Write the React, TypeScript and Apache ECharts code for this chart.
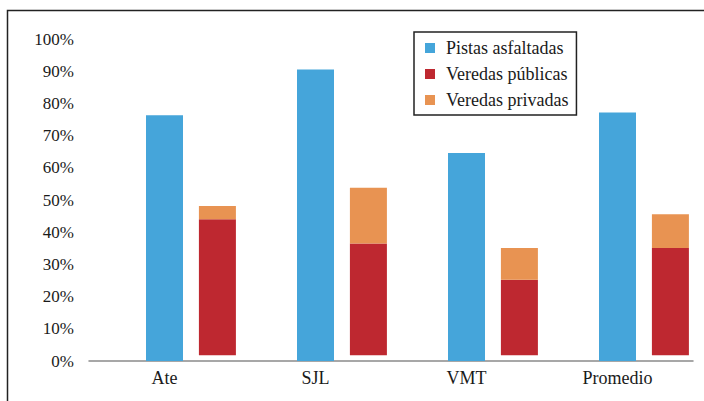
import React, { useEffect, useRef } from "react";
import * as echarts from "echarts";

const categories = ["Ate", "SJL", "VMT", "Promedio"];
const pistasAsfaltadas = [76.3, 90.5, 64.6, 77.2];
// top of the red segment (read as absolute value)
const veredasPublicas = [44.0, 36.5, 25.2, 35.1];
// orange segment height stacked above the red one
const veredasPrivadas = [4.1, 17.3, 9.9, 10.5];
// the red bars float slightly above the axis in the original
const redBaseOffset = [1.8, 1.8, 1.8, 1.8];
const yTicks = [0, 10, 20, 30, 40, 50, 60, 70, 80, 90, 100];

const BLUE = "#45A5DA";
const RED = "#BE2830";
const ORANGE = "#E89352";
const FONT = "Liberation Serif";

export default function App() {
  const ref = useRef<HTMLDivElement>(null);
  useEffect(() => {
    if (!ref.current) return;
    const chart = echarts.init(ref.current, undefined, { renderer: "svg" });
    const redVisible = veredasPublicas.map((v, i) => v - redBaseOffset[i]);
    chart.setOption({
      animation: false,
      textStyle: { fontFamily: FONT, color: "#1a1a1a" },
      grid: { left: 89, right: 11, top: 39, bottom: 40, containLabel: false },
      legend: {
        data: ["Pistas asfaltadas", "Veredas públicas", "Veredas privadas"],
        orient: "vertical",
        left: 414,
        top: 32,
        itemWidth: 10,
        itemHeight: 10,
        itemGap: 8,
        icon: "rect",
        borderColor: "#222",
        borderWidth: 1.5,
        padding: [7, 8, 6, 11],
        textStyle: { fontFamily: FONT, fontSize: 18, color: "#1a1a1a", padding: [0, 0, 0, 6] },
        selectedMode: false,
      },
      xAxis: {
        type: "category",
        data: categories,
        axisTick: { show: false },
        axisLine: { lineStyle: { color: "#8a8a8a", width: 1.5 } },
        axisLabel: { fontFamily: FONT, fontSize: 18, color: "#1a1a1a", margin: 8 },
      },
      yAxis: {
        type: "value",
        min: yTicks[0],
        max: yTicks[yTicks.length - 1],
        interval: 10,
        splitLine: { show: false },
        axisLine: { show: false },
        axisTick: { show: false },
        axisLabel: { formatter: "{value}%", fontFamily: FONT, fontSize: 17, color: "#1a1a1a", margin: 15 },
      },
      graphic: [
        {
          type: "rect",
          shape: { x: 7.5, y: 10.5, width: 900, height: 600 },
          style: { fill: "none", stroke: "#222", lineWidth: 1.5 },
          silent: true,
        },
      ],
      series: [
        {
          name: "ghost",
          type: "bar",
          stack: "ghost",
          barWidth: 37,
          barGap: "43%",
          data: categories.map(() => 0),
          itemStyle: { color: "rgba(0,0,0,0)" },
          silent: true,
        },
        {
          name: "Pistas asfaltadas",
          type: "bar",
          barWidth: 37,
          barGap: "43%",
          data: pistasAsfaltadas,
          itemStyle: { color: BLUE },
          silent: true,
        },
        {
          name: "base",
          type: "bar",
          stack: "v",
          barWidth: 37,
          barGap: "43%",
          data: redBaseOffset,
          itemStyle: { color: "rgba(0,0,0,0)" },
          silent: true,
        },
        {
          name: "Veredas públicas",
          type: "bar",
          stack: "v",
          barWidth: 37,
          barGap: "43%",
          data: redVisible,
          itemStyle: { color: RED },
          silent: true,
        },
        {
          name: "Veredas privadas",
          type: "bar",
          stack: "v",
          barWidth: 37,
          barGap: "43%",
          data: veredasPrivadas,
          itemStyle: { color: ORANGE },
          silent: true,
        },
      ],
    });
    return () => chart.dispose();
  }, []);
  return (
    <div
      ref={ref}
      style={{ position: "fixed", left: 0, top: 0, width: 704, height: 401, background: "#fff" }}
    />
  );
}
